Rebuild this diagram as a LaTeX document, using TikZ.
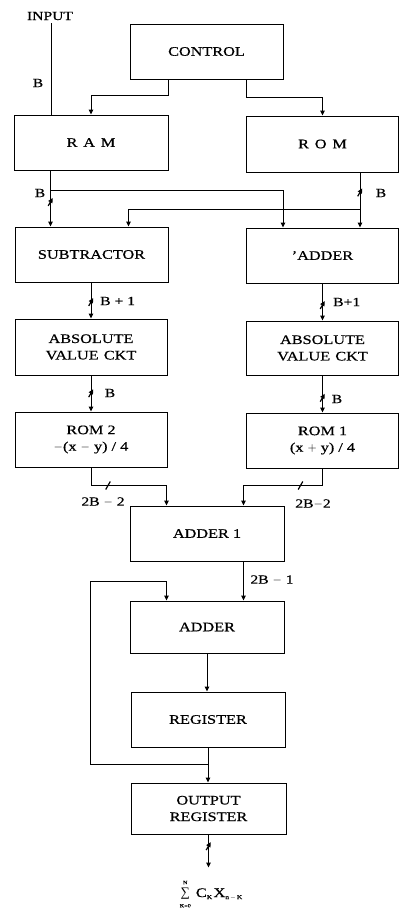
\documentclass[tikz,border=0pt]{standalone}
\usepackage{fontspec}
\setmainfont{Liberation Serif}[FakeStretch=1.25,FakeBold=0.6]
\newfontfamily\sumfont{Liberation Serif}
\usetikzlibrary{arrows.meta,calc,decorations.markings}
\tikzset{
  box/.style={draw, line width=1pt, rectangle, minimum width=153pt, minimum height=55pt,
    inner sep=0pt, align=center, font=\fontsize{13}{16.5}\selectfont},
  conn/.style={line width=1pt},
  arr/.style={conn, -{Triangle[length=5pt,width=4.5pt]}},
  lbl/.style={font=\fontsize{12.5}{14}\selectfont, inner sep=0pt},
  slashmark/.style={line width=1.2pt},
  bus/.style={postaction={decorate,decoration={markings, mark=at position #1 with
    {\pgftransformresetnontranslations\draw[slashmark] (-2.3pt,-4pt) -- (2.3pt,4pt);}}}},
}
\begin{document}
\begin{tikzpicture}[x=1pt,y=1pt]
\useasboundingbox (0,0) rectangle (400,-911);
% boxes
\node[box] (control) at (206.5,-51.5) {CONTROL};
\node[box, minimum width=154pt] (ram) at (91,-142.5) {R\hspace{.45em}A\hspace{.45em}M};
\node[box, minimum width=152pt, minimum height=56pt] (rom) at (322.5,-144) {R\hspace{.45em}O\hspace{.45em}M};
\node[box] (sub) at (91.5,-254.5) {SUBTRACTOR};
\node[box, minimum width=152pt] (add) at (322.5,-255.5) {’ADDER};
\node[box, minimum width=152pt, minimum height=56pt] (absL) at (91,-347) {ABSOLUTE\\VALUE\hspace{.4em}CKT};
\node[box, minimum width=152pt, minimum height=54pt] (absR) at (322.5,-348) {ABSOLUTE\\VALUE\hspace{.4em}CKT};
\node[box, minimum width=152pt] (rom2) at (91,-439.5) {ROM 2\\$-$(x $-$ y) / 4};
\node[box, minimum width=152pt] (rom1) at (322.5,-440.5) {ROM 1\\(x $+$ y) / 4};
\node[box, minimum width=154pt] (adder1) at (207,-533.5) {ADDER 1};
\node[box, minimum width=154pt, minimum height=52pt] (adder) at (207,-627) {ADDER};
\node[box, minimum width=154pt] (reg) at (208,-719.5) {REGISTER};
\node[box, minimum width=155pt, minimum height=51pt] (outreg) at (208.5,-808.5) {OUTPUT\\REGISTER};

% input
\node[lbl] (input) at (50,-16) {INPUT};
\coordinate (inTop) at ($(input.south)+(1.5,-3)$);
\draw[conn] (inTop) -- (inTop |- ram.north);
\node[lbl] (bIn) at (38,-83) {B};

% control
\draw[arr] (control.south -| ram.east) -- ++(0,-16) -| (ram.north);
\draw[arr] (control.south -| rom.west) -- ++(0,-18) -| (rom.north);

% RAM outputs
\coordinate (ramOut) at ($(ram.south west)+(37,0)$);
\draw[arr, bus=0.56] (ramOut) -- (ramOut |- sub.north);
\draw[arr] ($(ramOut)+(0,-20)$) -| ($(add.north west)+(37,0)$);
\node[lbl] (bRam) at (40,-193) {B};

% ROM outputs
\coordinate (romOut) at ($(rom.south west)+(114,0)$);
\draw[arr, bus=0.36] (romOut) -- (romOut |- add.north);
\draw[arr] ($(romOut)+(0,-37)$) -| ($(sub.north west)+(114,0)$);
\node[lbl] (bRom) at (381,-193) {B};

% second row
\draw[arr, bus=0.54] (sub.south -| absL.north) -- (absL.north);
\node[lbl, anchor=west] (bp1L) at (100,-301) {B + 1};
\draw[arr, bus=0.58] (add.south) -- (add.south |- absR.north);
\node[lbl, anchor=west] (bp1R) at (333,-302) {B+1};

% third row
\draw[arr, bus=0.49] (absL.south) -- (absL.south |- rom2.north);
\node[lbl] (bL) at (110,-393) {B};
\draw[arr, bus=0.6] (absR.south) -- (absR.south |- rom1.north);
\node[lbl] (bR) at (337,-399) {B};

% ROMs into adder 1
\draw[arr] (rom2.south) -- ++(0,-18) coordinate (j2) -| ($(adder1.north west)+(37,0)$);
\draw[slashmark] ($(j2)+(17,0)+(-2.3,-4)$) -- ++(4.6,8);
\node[lbl] (l2L) at (103,-502) {2B $-$ 2};
\draw[arr] (rom1.south) -- ++(0,-17) coordinate (j1) -| ($(adder1.north west)+(114,0)$);
\draw[slashmark] ($(j1)+(-22,0)+(-2.3,-4)$) -- ++(4.6,8);
\node[lbl] (l2R) at (313,-504) {2B$-$2};

% adder chain
\coordinate (a1Out) at ($(adder1.south west)+(114,0)$);
\draw[arr] (a1Out) -- (a1Out |- adder.north);
\node[lbl] (l21) at (272,-580) {2B $-$ 1};
\draw[arr] (adder.south) -- (adder.south |- reg.north);
\draw[arr] (reg.south) -- (reg.south |- outreg.north);

% feedback
\coordinate (fbStart) at ($(reg.south)+(0,-17)$);
\coordinate (fbCorner) at (90,-581);
\draw[arr] (fbStart) -| (fbCorner) -| ($(adder.north west)+(37,0)$);

% output
\draw[arr, bus=0.35] (outreg.south) -- ++(0,-33) coordinate (outEnd);
\node[inner sep=0pt, font=\fontsize{13}{15}\selectfont] (sum) at (211,-894)
  {\renewcommand{\arraystretch}{0.6}%
   \begin{tabular}{@{}c@{}}{\fontsize{5}{5}\selectfont N}\\[1.5pt]
   {\sumfont\fontsize{13}{13}\selectfont ∑}\\[1.5pt]{\fontsize{5}{5}\selectfont K=0}\end{tabular}%
   \hspace{5pt}C\raisebox{-2pt}{\fontsize{6}{6}\selectfont K}%
   \hspace{1.5pt}X\raisebox{-2pt}{\fontsize{6}{6}\selectfont n\,$-$\,K}};
\end{tikzpicture}
\end{document}
